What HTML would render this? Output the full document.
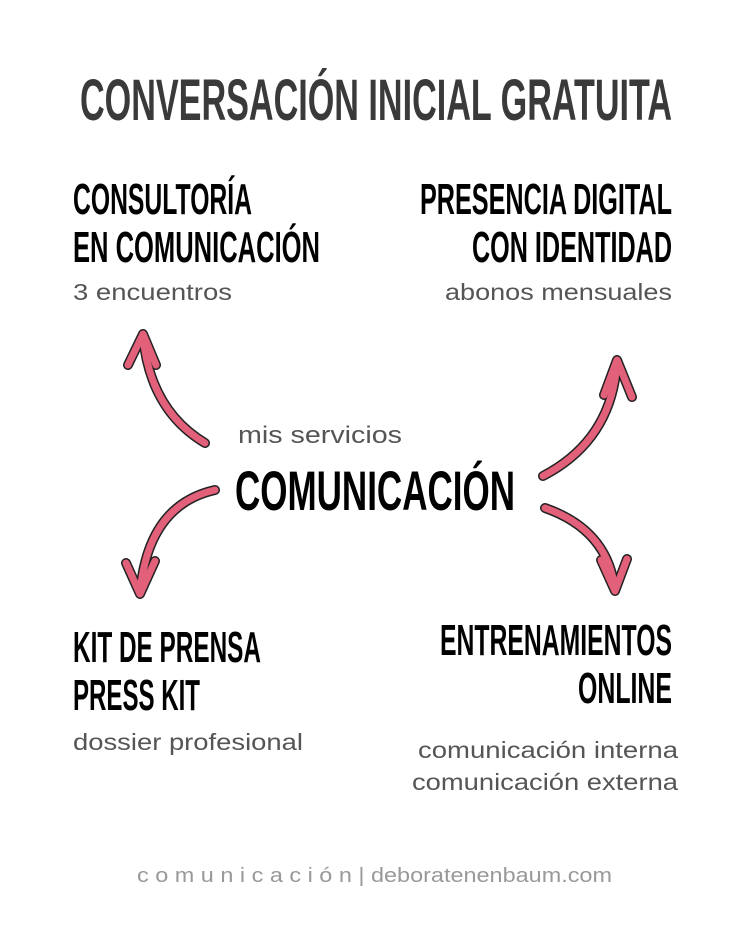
<!DOCTYPE html>
<html><head><meta charset="utf-8"><style>
html,body{margin:0;padding:0;background:#fff;}
svg{display:block}
.h{font-family:"Liberation Sans",sans-serif;font-weight:bold;}
.s{font-family:"Liberation Sans",sans-serif;fill:#555;}
</style></head><body>
<svg width="750" height="937" viewBox="0 0 750 937" xmlns="http://www.w3.org/2000/svg">
<text class="h" x="80" y="120" font-size="58" fill="#3a3a3a" textLength="592" lengthAdjust="spacingAndGlyphs">CONVERSACIÓN INICIAL GRATUITA</text>

<text class="h" x="73" y="214" font-size="44" fill="#000" textLength="179" lengthAdjust="spacingAndGlyphs">CONSULTORÍA</text>
<text class="h" x="73" y="262" font-size="44" fill="#000" textLength="247" lengthAdjust="spacingAndGlyphs">EN COMUNICACIÓN</text>
<text class="s" x="73" y="300" font-size="23" textLength="159" lengthAdjust="spacingAndGlyphs">3 encuentros</text>

<text class="h" x="420" y="214" font-size="44" fill="#000" textLength="252" lengthAdjust="spacingAndGlyphs">PRESENCIA DIGITAL</text>
<text class="h" x="472" y="262" font-size="44" fill="#000" textLength="200" lengthAdjust="spacingAndGlyphs">CON IDENTIDAD</text>
<text class="s" x="445" y="300" font-size="23" textLength="227" lengthAdjust="spacingAndGlyphs">abonos mensuales</text>

<text class="s" x="238" y="443" font-size="24" textLength="164" lengthAdjust="spacingAndGlyphs">mis servicios</text>
<text class="h" x="235" y="510" font-size="56" fill="#000" textLength="280" lengthAdjust="spacingAndGlyphs">COMUNICACIÓN</text>

<text class="h" x="73" y="662" font-size="44" fill="#000" textLength="188" lengthAdjust="spacingAndGlyphs">KIT DE PRENSA</text>
<text class="h" x="73" y="710" font-size="44" fill="#000" textLength="127" lengthAdjust="spacingAndGlyphs">PRESS KIT</text>
<text class="s" x="73" y="750" font-size="23" textLength="230" lengthAdjust="spacingAndGlyphs">dossier profesional</text>

<text class="h" x="440" y="655" font-size="44" fill="#000" textLength="232" lengthAdjust="spacingAndGlyphs">ENTRENAMIENTOS</text>
<text class="h" x="578" y="703" font-size="44" fill="#000" textLength="94" lengthAdjust="spacingAndGlyphs">ONLINE</text>
<text class="s" x="418" y="758" font-size="23" textLength="260" lengthAdjust="spacingAndGlyphs">comunicación interna</text>
<text class="s" x="412" y="790" font-size="23" textLength="266" lengthAdjust="spacingAndGlyphs">comunicación externa</text>

<text class="s" x="137" y="882" font-size="20" style="fill:#999" textLength="475" lengthAdjust="spacingAndGlyphs">c o m u n i c a c i ó n | deboratenenbaum.com</text>

<g fill="none" stroke-linecap="round" stroke-linejoin="round">
 <g stroke="#222" stroke-width="10">
  <path d="M205,443 Q150,410 143,336"/><path d="M128,365 L143,334 L156,365"/>
  <path d="M543,476 Q612,440 617,362"/><path d="M604,395 L617,360 L632,397"/>
  <path d="M215,490 Q148,505 140,593"/><path d="M126,563 L140,594 L155,561"/>
  <path d="M545,508 Q608,530 615,590"/><path d="M601,560 L615,591 L627,559"/>
 </g>
 <g stroke="#e3607a" stroke-width="7">
  <path d="M205,443 Q150,410 143,336"/><path d="M128,365 L143,334 L156,365"/>
  <path d="M543,476 Q612,440 617,362"/><path d="M604,395 L617,360 L632,397"/>
  <path d="M215,490 Q148,505 140,593"/><path d="M126,563 L140,594 L155,561"/>
  <path d="M545,508 Q608,530 615,590"/><path d="M601,560 L615,591 L627,559"/>
 </g>
</g>
</svg>
</body></html>
